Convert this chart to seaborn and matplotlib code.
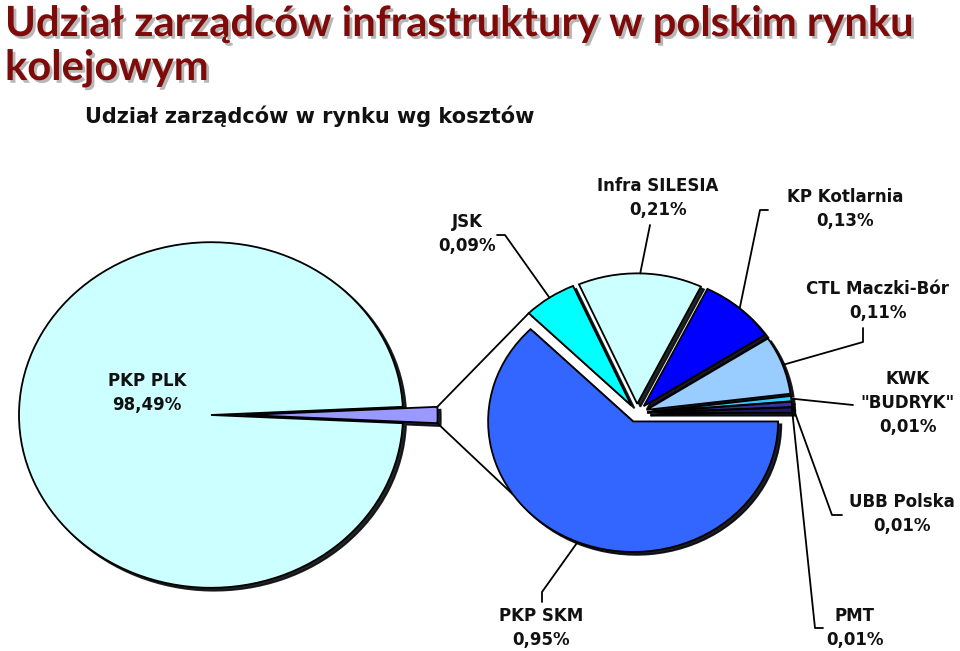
import numpy as np
import matplotlib
matplotlib.use("Agg")
import matplotlib.pyplot as plt
import matplotlib.patheffects as pe
import seaborn as sns

# =========================
# Dane
# =========================
main_labels = ["Pozostali", "PKP PLK"]
main_values = [1.51, 98.49]
main_colors = ["#9999FF", "#CCFFFF"]

rest_labels = ["JSK", "Infra SILESIA", "KP Kotlarnia", "CTL Maczki-Bór",
               'KWK\n"BUDRYK"', "UBB Polska", "PMT", "PKP SKM"]
rest_values = [0.09, 0.21, 0.13, 0.11, 0.01, 0.01, 0.01, 0.95]
rest_colors = ["#00FFFF", "#CCFFFF", "#0000FF", "#99CCFF",
               "#33CCFF", "#333399", "#1A1A66", "#3366FF"]


def pct(v):
    return f"{v:.2f}".replace(".", ",") + "%"


# =========================
# Układ (piksele obrazka)
# =========================
W, H = 960, 651
SY = 0.9  # spłaszczenie elipsy w pionie
R_MAIN, R_REST = 192, 145


def px(x, y):
    """Piksele obrazka -> współrzędne osi."""
    return x, (H - y) / SY


label_pos = {
    "JSK": (467, 234),
    "Infra SILESIA": (658, 198),
    "KP Kotlarnia": (845, 209),
    "CTL Maczki-Bór": (878, 301),
    'KWK\n"BUDRYK"': (908, 403),
    "UBB Polska": (902, 514),
    "PMT": (855, 628),
    "PKP SKM": (541, 628),
}
leader_pts = {
    "JSK": [(497, 235), (505, 235)],
    "Infra SILESIA": [(650, 225)],
    "KP Kotlarnia": [(768, 210), (760, 210)],
    "CTL Maczki-Bór": [(863, 328), (863, 342)],
    'KWK\n"BUDRYK"': [(853, 405)],
    "UBB Polska": [(842, 515), (832, 515)],
    "PMT": [(823, 628), (815, 628)],
    "PKP SKM": [(542, 602), (542, 592)],
}

sns.set_theme(style="white")
plt.rcParams["font.family"] = ["DejaVu Sans"]

fig = plt.figure(figsize=(W / 100, H / 100), dpi=100)
ax = fig.add_axes([0, 0, 1, 1])

shadow = {"ox": 2.3, "oy": -2.3, "shade": 0.95, "alpha": 0.9}
wedge_kw = {"edgecolor": "black", "linewidth": 1.3}

# lewy wykres
w_main, _ = ax.pie(main_values, colors=main_colors, startangle=-main_values[0] / 100 * 180,
                   explode=[0.18 * R_MAIN, 0], radius=R_MAIN, center=px(211, 415),
                   shadow=shadow, wedgeprops=wedge_kw)

# prawy wykres
w_rest, _ = ax.pie(rest_values, colors=rest_colors, startangle=135, counterclock=False,
                   explode=[0.07 * R_REST] * len(rest_values), radius=R_REST,
                   center=px(637, 413), shadow=shadow, wedgeprops=wedge_kw)

ax.set_aspect("auto")
ax.set_xlim(0, W)
ax.set_ylim(0, H / SY)
ax.axis("off")


def edge_point(w, theta):
    cx, cy = w.center
    t = np.deg2rad(theta)
    return cx + w.r * np.cos(t), cy + w.r * np.sin(t)


# linie łączące
small = w_main[0]
top_l = edge_point(small, small.theta2)
bot_l = edge_point(small, small.theta1)
top_r = edge_point(w_rest[0], w_rest[0].theta2)
bot_r = edge_point(w_rest[-1], 214)
ax.plot([top_l[0], top_r[0]], [top_l[1], top_r[1]], color="black", lw=1.3, zorder=0)
ax.plot([bot_l[0], bot_r[0]], [bot_l[1], bot_r[1]], color="black", lw=1.3, zorder=0)

# etykiety
txt_kw = dict(ha="center", va="center", fontsize=12, fontweight="bold",
              color="#111111", linespacing=1.45)
x, y = px(147, 393)
ax.text(x, y, "PKP PLK\n" + pct(main_values[1]), **txt_kw)

for w, lab, val in zip(w_rest, rest_labels, rest_values):
    x, y = px(*label_pos[lab])
    ax.text(x, y, lab + "\n" + pct(val), **txt_kw)
    pts = [px(*p) for p in leader_pts[lab]]
    pts.append(edge_point(w, (w.theta1 + w.theta2) / 2))
    xs, ys = zip(*pts)
    ax.plot(xs, ys, color="black", lw=1.3, zorder=3)

# tytuły
title_fx = [pe.SimplePatchShadow(offset=(2, -2), shadow_rgbFace="#888888", alpha=0.6), pe.Normal()]
fig.text(5 / W, 1 - 36 / H, "Udział zarządców infrastruktury w polskim rynku",
         fontsize=30, fontweight="bold", color="#7F0A0A", family=["Lato", "DejaVu Sans"],
         path_effects=title_fx)
fig.text(5 / W, 1 - 80 / H, "kolejowym",
         fontsize=30, fontweight="bold", color="#7F0A0A", family=["Lato", "DejaVu Sans"],
         path_effects=title_fx)
fig.text(85 / W, 1 - 123 / H, "Udział zarządców w rynku wg kosztów",
         fontsize=15, fontweight="bold", color="#111111")

fig.savefig("out.png", dpi=100)
